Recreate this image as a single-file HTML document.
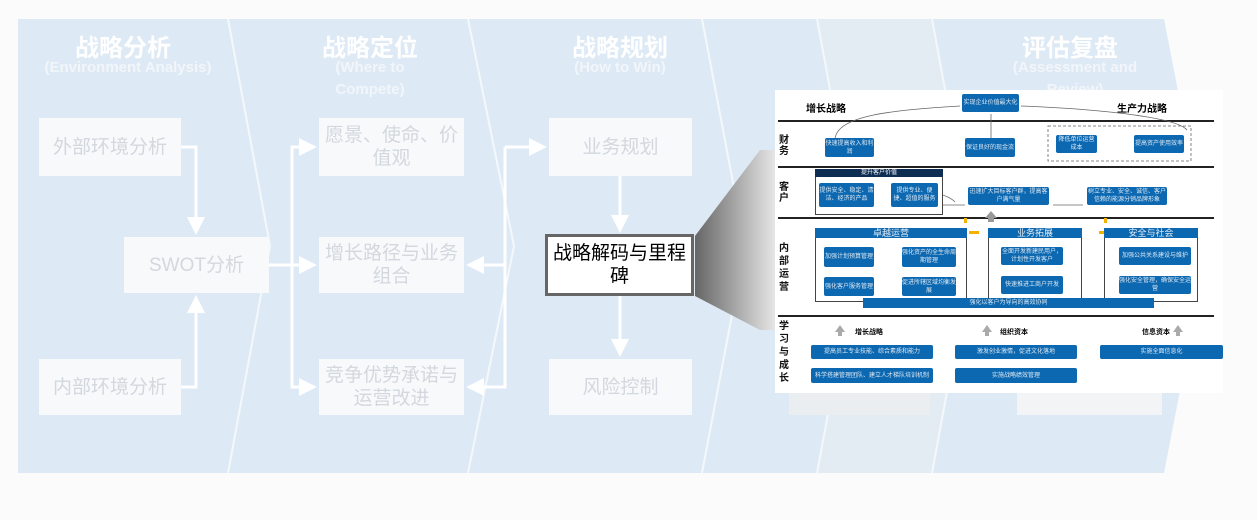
<!DOCTYPE html>
<html><head><meta charset="utf-8"><style>
*{margin:0;padding:0;box-sizing:border-box}
body{width:1257px;height:520px;background:#fbfbfb;position:relative;overflow:hidden;font-family:"Liberation Sans","Noto Sans CJK SC",sans-serif}
.a{position:absolute}
.bx{position:absolute;background:#f7f9fb;color:#d3d8de;font-size:19px;display:flex;align-items:center;justify-content:center;text-align:center;line-height:23px}
.tt{position:absolute;color:#fff;font-weight:bold;text-align:center;font-size:24px}
.st{position:absolute;color:#f2f6fa;font-weight:bold;text-align:center;font-size:15px;line-height:22px}
.b{position:absolute;background:#0b68b1;color:#dfe9f3;font-size:6px;line-height:8px;display:flex;align-items:center;justify-content:center;text-align:center;border-radius:2px;overflow:hidden}
.lb{position:absolute;font-weight:bold;font-size:10px;color:#111;line-height:11px;width:12px;text-align:center}
.hl{position:absolute;left:778px;width:436px;height:2px;background:#222}
.ch{position:absolute;background:#0b68b1;color:#e8eef5;font-size:9px;text-align:center;line-height:10px}
.ct{position:absolute;border:1px solid #444;background:#fff}
</style></head><body>
<svg class="a" style="left:0;top:0" width="1257" height="520">
<defs><linearGradient id="g" x1="0" x2="1"><stop offset="0" stop-color="#666"/><stop offset="1" stop-color="#e6e6e6"/></linearGradient>
<marker id="m" markerWidth="6" markerHeight="6" refX="5" refY="3" orient="auto"><path d="M0,0L6,3L0,6z" fill="#fff"/></marker></defs>
<polygon points="18,19 1164,19 1208,246 1164,473 18,473" fill="#dde9f4"/>
<polygon points="817,19 932,19 974,246 932,473 817,473 859,246" fill="#e4ecf3"/>
<g stroke="#f4f8fb" stroke-width="2" fill="none">
<polyline points="228,19 270,246 228,473"/>
<polyline points="468,19 514,246 468,473"/>
<polyline points="702,19 745,246 702,473"/>
<polyline points="817,19 859,246 817,473"/>
<polyline points="932,19 974,246 932,473"/>
</g>
<g stroke="#fff" stroke-width="3" fill="none">
<polyline points="181,147 196,147 196,232" marker-end="url(#m)"/>
<polyline points="181,387 196,387 196,298" marker-end="url(#m)"/>
<line x1="269" y1="265" x2="314" y2="265" marker-end="url(#m)"/>
<polyline points="314,147 292,147 292,387 314,387"/>
<line x1="292" y1="147" x2="314" y2="147" marker-end="url(#m)"/>
<line x1="292" y1="387" x2="314" y2="387" marker-end="url(#m)"/>
<polyline points="505,147 505,387 469,387"/>
<line x1="505" y1="147" x2="544" y2="147" marker-end="url(#m)"/>
<line x1="505" y1="265" x2="469" y2="265" marker-end="url(#m)"/>
<line x1="505" y1="387" x2="469" y2="387" marker-end="url(#m)"/>
<line x1="620" y1="176" x2="620" y2="230" marker-end="url(#m)"/>
<line x1="620" y1="296" x2="620" y2="354" marker-end="url(#m)"/>
</g>
<polygon points="695,236 760,150 775,150 775,330 760,330 695,296" fill="url(#g)"/>
</svg>
<div class="tt" style="left:18px;top:28px;width:210px">战略分析</div>
<div class="st" style="left:18px;top:57px;width:220px">(Environment Analysis)</div>
<div class="tt" style="left:280px;top:28px;width:180px">战略定位</div>
<div class="st" style="left:310px;top:57px;width:120px">(Where to<br>Compete)</div>
<div class="tt" style="left:520px;top:28px;width:200px">战略规划</div>
<div class="st" style="left:520px;top:57px;width:200px">(How to Win)</div>
<div class="tt" style="left:990px;top:28px;width:160px">评估复盘</div>
<div class="st" style="left:990px;top:57px;width:170px">(Assessment and<br>Review)</div>
<div class="bx" style="left:39px;top:118px;width:142px;height:58px">外部环境分析</div>
<div class="bx" style="left:124px;top:237px;width:145px;height:56px">SWOT分析</div>
<div class="bx" style="left:39px;top:359px;width:142px;height:56px">内部环境分析</div>
<div class="bx" style="left:319px;top:118px;width:145px;height:58px">愿景、使命、价值观</div>
<div class="bx" style="left:319px;top:237px;width:145px;height:56px">增长路径与业务组合</div>
<div class="bx" style="left:319px;top:359px;width:145px;height:56px">竞争优势承诺与运营改进</div>
<div class="bx" style="left:549px;top:118px;width:143px;height:58px">业务规划</div>
<div class="bx" style="left:549px;top:359px;width:143px;height:56px">风险控制</div>
<div class="bx" style="left:545px;top:234px;width:149px;height:62px;background:#fff;color:#000;border:3px solid #666">战略解码与里程碑</div>
<div class="a" style="left:789px;top:393px;width:141px;height:22px;background:#ebeef1"></div>
<div class="a" style="left:1017px;top:393px;width:145px;height:22px;background:#f2f4f6"></div>
<div class="a" style="left:775px;top:90px;width:448px;height:303px;background:#fff"></div>
<div class="a" style="left:806px;top:100px;font-size:10px;font-weight:bold">增长战略</div>
<div class="a" style="left:1117px;top:100px;font-size:10px;font-weight:bold">生产力战略</div>
<div class="b" style="left:962px;top:94px;width:57px;height:18px">实现企业价值最大化</div>
<div class="hl" style="top:120px"></div><div class="hl" style="top:166px"></div><div class="hl" style="top:217px"></div><div class="hl" style="top:315px"></div>
<div class="lb" style="left:778px;top:135px">财务</div>
<div class="lb" style="left:778px;top:182px">客户</div>
<div class="lb" style="left:778px;top:242px;line-height:13px">内部运营</div>
<div class="lb" style="left:778px;top:320px;line-height:13px">学习与成长</div>
<svg class="a" style="left:775px;top:90px" width="448" height="303" fill="none" stroke="#666" stroke-width=".8">
<path d="M60,50 C60,25 120,20 185,16"/><path d="M412,40 C400,25 300,18 246,16"/><line x1="216" y1="48" x2="216" y2="24"/>
<path d="M180,112 C170,100 120,95 75,90"/><line x1="168" y1="115" x2="190" y2="115"/><line x1="308" y1="115" x2="278" y2="115"/>
<rect x="273" y="36" width="143" height="35" stroke-dasharray="3,2"/>
<polygon points="210,128 216,121 222,128 219,128 219,132 213,132 213,128" fill="#999" stroke="none"/>
<polygon points="60,242 65,235 70,242 67,242 67,246 63,246 63,242" fill="#aaa" stroke="none"/>
<polygon points="207,242 212,235 217,242 214,242 214,246 210,246 210,242" fill="#aaa" stroke="none"/>
<polygon points="398,242 403,235 408,242 405,242 405,246 401,246 401,242" fill="#aaa" stroke="none"/>
<rect x="194" y="141" width="10" height="3" fill="#f5b000" stroke="none"/><rect x="324" y="141" width="10" height="3" fill="#f5b000" stroke="none"/>
<rect x="189" y="128" width="3" height="5" fill="#f5b000" stroke="none"/><rect x="329" y="128" width="3" height="5" fill="#f5b000" stroke="none"/>
</svg>
<div class="b" style="left:825px;top:138px;width:49px;height:19px">快速提高收入和利润</div>
<div class="b" style="left:965px;top:138px;width:50px;height:19px">保证良好的现金流</div>
<div class="b" style="left:1056px;top:135px;width:41px;height:18px">降低单位运营成本</div>
<div class="b" style="left:1134px;top:135px;width:50px;height:18px">提高资产使用效率</div>
<div class="ct" style="left:815px;top:169px;width:128px;height:46px"></div>
<div class="a" style="left:815px;top:169px;width:128px;height:8px;background:#0d2d52;color:#fff;font-size:6px;line-height:8px;text-align:center">提升客户价值</div>
<div class="b" style="left:819px;top:183px;width:55px;height:24px">提供安全、稳定、清洁、经济的产品</div>
<div class="b" style="left:891px;top:183px;width:47px;height:24px">提供专业、便捷、超值的服务</div>
<div class="b" style="left:968px;top:187px;width:81px;height:18px">迅速扩大目标客户群，提高客户满气量</div>
<div class="b" style="left:1087px;top:187px;width:80px;height:18px">树立专业、安全、诚信、客户信赖的能源分销品牌形象</div>
<div class="ct" style="left:815px;top:228px;width:152px;height:74px"></div>
<div class="ct" style="left:988px;top:228px;width:94px;height:74px"></div>
<div class="ct" style="left:1104px;top:228px;width:94px;height:74px"></div>
<div class="ch" style="left:815px;top:228px;width:152px;height:10px">卓越运营</div>
<div class="ch" style="left:988px;top:228px;width:94px;height:10px">业务拓展</div>
<div class="ch" style="left:1104px;top:228px;width:94px;height:10px">安全与社会</div>
<div class="b" style="left:824px;top:247px;width:50px;height:20px">加强计划预算管理</div>
<div class="b" style="left:902px;top:247px;width:54px;height:20px">强化资产的全生命周期管理</div>
<div class="b" style="left:824px;top:277px;width:50px;height:19px">强化客户服务管理</div>
<div class="b" style="left:902px;top:277px;width:54px;height:19px">促进所辖区域均衡发展</div>
<div class="b" style="left:1001px;top:247px;width:62px;height:18px">全面开发新建民用户，计划性开发客户</div>
<div class="b" style="left:1001px;top:276px;width:62px;height:18px">快速推进工商户开发</div>
<div class="b" style="left:1119px;top:247px;width:72px;height:18px">加强公共关系建设与维护</div>
<div class="b" style="left:1119px;top:276px;width:72px;height:18px">强化安全管理，确保安全运营</div>
<div class="b" style="left:863px;top:298px;width:291px;height:10px;border-radius:0">强化以客户为导向的高效协同</div>
<div class="a" style="left:855px;top:327px;font-size:7px;font-weight:bold">增长战略</div>
<div class="a" style="left:1000px;top:327px;font-size:7px;font-weight:bold">组织资本</div>
<div class="a" style="left:1142px;top:327px;font-size:7px;font-weight:bold">信息资本</div>
<div class="b" style="left:811px;top:345px;width:122px;height:14px">提高员工专业技能、综合素质和能力</div>
<div class="b" style="left:955px;top:345px;width:122px;height:14px">激发创业激情，促进文化落地</div>
<div class="b" style="left:1100px;top:345px;width:123px;height:14px">实施全面信息化</div>
<div class="b" style="left:811px;top:368px;width:122px;height:15px">科学搭建管理团队、建立人才梯队培训机制</div>
<div class="b" style="left:955px;top:368px;width:122px;height:15px">实施战略绩效管理</div>
</body></html>
